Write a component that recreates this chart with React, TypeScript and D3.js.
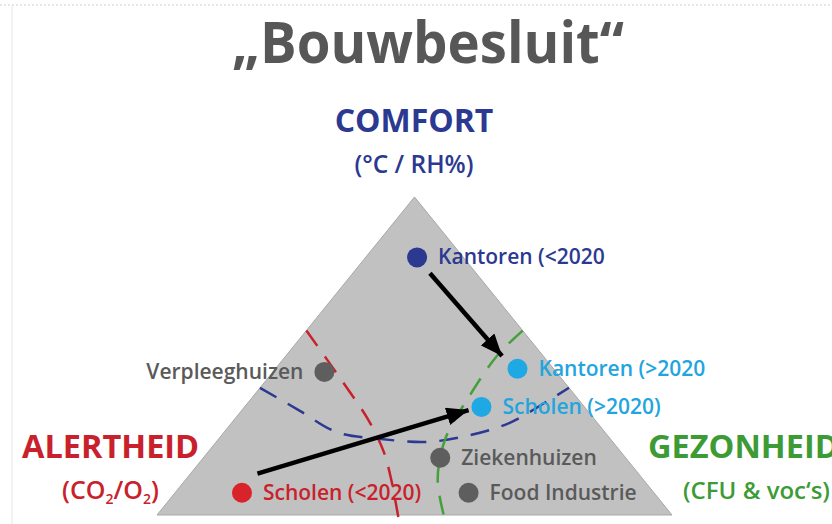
import React from 'react';
import * as d3 from 'd3';

// ternary values in %: comfort (top), alertheid (left), gezonheid (right)
const pointNames = ['Kantoren (<2020', 'Kantoren (>2020', 'Scholen (>2020)', 'Verpleeghuizen', 'Ziekenhuizen', 'Food Industrie', 'Scholen (<2020)'];
const comfortVals = [81, 46, 34, 45, 18, 7, 7];
const alertVals = [9, 7, 20, 45, 36, 36, 80];
const healthVals = [10, 47, 46, 10, 46, 57, 13];
const pointGroups = ['old', 'new', 'new', 'other', 'other', 'other', 'school'];

// arrows (start / tip), same ternary units
const arrowStarts = [[76, 9, 15], [13, 74, 13]];
const arrowEnds = [[50, 8, 42], [33, 23, 44]];

// dashed boundary curves
const redCurve = [[58, 42, 0], [42, 43, 15], [30, 44, 26], [20, 46, 34], [11, 49, 40], [-2, 54, 48]];
const blueCurve = [[40, 60, 0], [33, 56, 11], [26, 52, 22], [24, 45, 31], [23, 36, 41], [25, 27, 48], [29, 17, 54], [36, 6, 58], [40, 0, 60]];
const greenCurve = [[58, 0, 42], [50, 9, 41], [37, 21, 42], [24, 32, 44], [11, 40, 49], [-2, 45, 57]];

const W = 832;
const H = 524;
const FONT = '"Open Sans", "Noto Sans", sans-serif';

const groupColor: Record<string, string> = {
  old: '#2b3990',
  new: '#1ea8e4',
  other: '#5e5e5e',
  school: '#d9232b',
};
const textColor: Record<string, string> = {
  old: '#2b3990',
  new: '#22a5de',
  other: '#5a5a5a',
  school: '#c9212b',
};

export default function App() {
  const x = d3.scaleLinear().domain([0, 1]).range([157, 672]);
  const y = d3.scaleLinear().domain([0, 1]).range([515, 197]);

  // ternary -> screen
  const pos = (t: number[]) => {
    const s = t[0] + t[1] + t[2];
    const a = t[0] / s;
    const c = t[2] / s;
    return [x(c + a / 2), y(a)] as [number, number];
  };

  const tri = [pos([100, 0, 0]), pos([0, 100, 0]), pos([0, 0, 100])];
  const curveLine = d3.line().curve(d3.curveCatmullRom.alpha(0.5));

  const points = pointNames.map((name, i) => {
    const [px, py] = pos([comfortVals[i], alertVals[i], healthVals[i]]);
    return { name, px, py, group: pointGroups[i] };
  });

  return (
    <svg width={W} height={H} style={{ position: 'absolute', left: 0, top: 0, background: '#fff' }}>
      <line x1={0} x2={W} y1={5} y2={5} stroke="#cfcfcf" strokeDasharray="2,2" strokeWidth={1} />
      <line x1={12} x2={12} y1={5} y2={H} stroke="#e6e6e6" strokeWidth={1} />
      <defs>
        <marker id="head" markerUnits="userSpaceOnUse" markerWidth={24} markerHeight={18} refX={22} refY={9} orient="auto">
          <path d="M0,0 L22,9 L0,18 Z" fill="#000" />
        </marker>
      </defs>

      <text x={428} y={63} textAnchor="middle" fontFamily={FONT} fontWeight={700} fontSize={57} fill="#575757" textLength={392} lengthAdjust="spacingAndGlyphs">„Bouwbesluit“</text>
      <text x={414} y={132} textAnchor="middle" fontFamily={FONT} fontWeight={700} fontSize={32} fill="#2b3990">COMFORT</text>
      <text x={414} y={173} textAnchor="middle" fontFamily={FONT} fontWeight={600} fontSize={24.5} fill="#2b3990">(°C / RH%)</text>

      <path d={d3.line()(tri) + 'Z'} fill="#c1c1c1" stroke="#a8a8a8" strokeWidth={1} />

      <path d={curveLine(redCurve.map(pos)) || ''} fill="none" stroke="#c9212b" strokeWidth={2.5} strokeDasharray="19,13" />
      <path d={curveLine(blueCurve.map(pos)) || ''} fill="none" stroke="#2b3990" strokeWidth={2.5} strokeDasharray="19,13" />
      <path d={curveLine(greenCurve.map(pos)) || ''} fill="none" stroke="#45a03b" strokeWidth={2.5} strokeDasharray="19,13" />

      {arrowStarts.map((s, i) => {
        const [x1, y1] = pos(s);
        const [x2, y2] = pos(arrowEnds[i]);
        return <line key={i} x1={x1} y1={y1} x2={x2} y2={y2} stroke="#000" strokeWidth={4.5} markerEnd="url(#head)" />;
      })}

      {points.map((p) => (
        <g key={p.name}>
          <circle cx={p.px} cy={p.py} r={10} fill={groupColor[p.group]} />
          <text
            x={p.name === 'Verpleeghuizen' ? p.px - 21 : p.px + 21}
            y={p.py + 7}
            textAnchor={p.name === 'Verpleeghuizen' ? 'end' : 'start'}
            fontFamily={FONT}
            fontWeight={600}
            fontSize={21}
            fill={textColor[p.group]}
          >
            {p.name}
          </text>
        </g>
      ))}

      <text x={22} y={458} fontFamily={FONT} fontWeight={700} fontSize={32.5} fill="#c9212b">ALERTHEID</text>
      <text x={62} y={499} fontFamily={FONT} fontWeight={600} fontSize={25} fill="#c9212b">
        (CO<tspan fontSize={14} dy={5}>2</tspan><tspan dy={-5}>/O</tspan><tspan fontSize={14} dy={5}>2</tspan><tspan dy={-5}>)</tspan>
      </text>
      <text x={648} y={458} fontFamily={FONT} fontWeight={700} fontSize={32.5} fill="#3d9b35">GEZONHEID</text>
      <text x={683} y={499} fontFamily={FONT} fontWeight={600} fontSize={24} fill="#3d9b35">(CFU &amp; voc‘s)</text>
    </svg>
  );
}
